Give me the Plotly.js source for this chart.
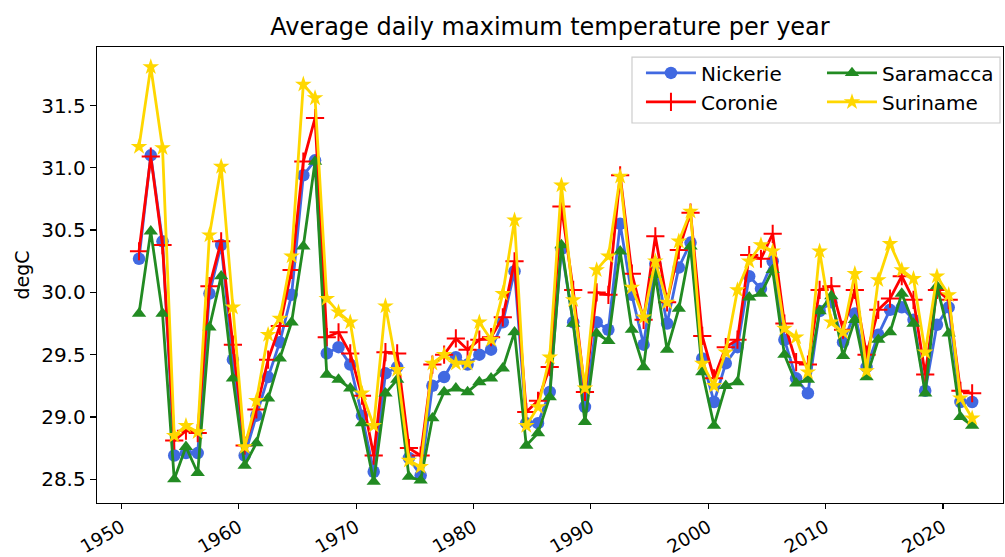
<!DOCTYPE html>
<html>
<head>
<meta charset="utf-8">
<script src="https://cdn.plot.ly/plotly-3.0.1.min.js"></script>
<style>
  html, body { margin: 0; padding: 0; background: #fff; }
  #chart { width: 1005px; height: 557px; }
</style>
</head>
<body>
<div id="chart"></div>
<script>
// Yearly mean of the daily maximum temperature (degC) per district
const years = [
  1951, 1952, 1953, 1954, 1955, 1956, 1957, 1958, 1959, 1960,
  1961, 1962, 1963, 1964, 1965, 1966, 1967, 1968, 1969, 1970,
  1971, 1972, 1973, 1974, 1975, 1976, 1977, 1978, 1979, 1980,
  1981, 1982, 1983, 1984, 1985, 1986, 1987, 1988, 1989, 1990,
  1991, 1992, 1993, 1994, 1995, 1996, 1997, 1998, 1999, 2000,
  2001, 2002, 2003, 2004, 2005, 2006, 2007, 2008, 2009, 2010,
  2011, 2012, 2013, 2014, 2015, 2016, 2017, 2018, 2019, 2020,
  2021, 2022
];

const nickerie = [
  30.27, 31.10, 30.41, 28.69, 28.71, 28.71, 29.99, 30.38, 29.46, 28.69,
  29.01, 29.32, 29.60, 29.98, 30.94, 31.06, 29.51, 29.56, 29.42, 29.01,
  28.56, 29.35, 29.40, 28.67, 28.53, 29.25, 29.32, 29.48, 29.42, 29.50,
  29.54, 29.76, 30.17, 28.95, 28.95, 29.20, 30.35, 29.76, 29.08, 29.76,
  29.70, 30.55, 29.98, 29.58, 30.23, 29.75, 30.20, 30.40, 29.47, 29.12,
  29.43, 29.56, 30.13, 30.03, 30.25, 29.62, 29.31, 29.19, 29.85, 29.92,
  29.60, 29.83, 29.40, 29.66, 29.86, 29.88, 29.78, 29.21, 29.74, 29.88,
  29.12, 29.12
];

const coronie = [
  30.33, 31.09, 30.38, 28.81, 28.89, 28.87, 30.05, 30.41, 29.58, 28.77,
  29.06, 29.46, 29.73, 30.18, 31.05, 31.40, 29.64, 29.68, 29.51, 29.17,
  28.69, 29.52, 29.51, 28.75, 28.69, 29.42, 29.50, 29.63, 29.54, 29.62,
  29.64, 29.80, 30.25, 29.04, 29.13, 29.40, 30.69, 30.02, 29.20, 30.00,
  29.98, 30.94, 30.15, 29.78, 30.45, 29.92, 30.34, 30.64, 29.65, 29.31,
  29.56, 29.62, 30.30, 30.27, 30.47, 29.75, 29.44, 29.42, 30.02, 30.05,
  29.70, 30.02, 29.50, 29.86, 29.95, 30.13, 29.94, 29.34, 30.02, 29.94,
  29.21, 29.19
];

const saramacca = [
  29.83, 30.49, 29.83, 28.50, 28.76, 28.55, 29.72, 30.13, 29.31, 28.61,
  28.79, 29.15, 29.47, 29.76, 30.37, 31.05, 29.34, 29.30, 29.23, 28.95,
  28.48, 29.19, 29.30, 28.52, 28.49, 28.99, 29.20, 29.23, 29.20, 29.28,
  29.31, 29.39, 29.68, 28.77, 28.87, 29.16, 30.38, 29.75, 28.96, 29.67,
  29.61, 30.33, 29.70, 29.40, 30.14, 29.54, 29.87, 30.37, 29.36, 28.93,
  29.25, 29.28, 29.96, 29.99, 30.18, 29.50, 29.27, 29.30, 29.85, 29.97,
  29.49, 29.78, 29.32, 29.62, 29.68, 29.99, 29.75, 29.19, 30.05, 29.67,
  29.00, 28.93
];

const suriname = [
  31.17, 31.81, 31.16, 28.85, 28.93, 28.88, 30.46, 31.01, 29.88, 28.76,
  29.13, 29.66, 29.79, 30.29, 31.67, 31.56, 29.95, 29.84, 29.76, 29.19,
  28.93, 29.89, 29.38, 28.65, 28.60, 29.43, 29.50, 29.43, 29.43, 29.76,
  29.62, 29.99, 30.58, 28.93, 29.08, 29.48, 30.86, 29.94, 29.23, 30.18,
  30.29, 30.93, 30.04, 29.80, 30.25, 29.92, 30.41, 30.65, 29.43, 29.25,
  29.52, 30.02, 30.25, 30.38, 30.33, 29.71, 29.64, 29.36, 30.33, 29.76,
  29.68, 30.15, 29.37, 30.10, 30.39, 30.18, 30.11, 29.52, 30.13, 29.98,
  29.15, 28.99
];

// each yearly mean is placed in the middle of its year
const dates = years.map(y => y + '-07-01');

const FONT = 'DejaVu Sans, Verdana, sans-serif';

function series(name, values, color, symbol, legendId) {
  const marker = { symbol: symbol, size: 12.5, color: color };
  if (symbol === 'cross-thin') {
    marker.size = 13;
    marker.line = { color: color, width: 2 };
  }
  return {
    type: 'scatter',
    mode: 'lines+markers',
    name: name,
    x: dates,
    y: values,
    line: { color: color, width: 2.8 },
    marker: marker,
    legend: legendId,
    legendgroup: name
  };
}

const traces = [
  series('Nickerie', nickerie, '#4169E1', 'circle', 'legend'),
  series('Coronie', coronie, '#FF0000', 'cross-thin', 'legend'),
  series('Saramacca', saramacca, '#228B22', 'triangle-up', 'legend2'),
  series('Suriname', suriname, '#FFD700', 'star', 'legend2')
];

// two legend columns sharing one framed box
function legendColumn(x) {
  return {
    orientation: 'v',
    x: x,
    xanchor: 'left',
    y: 0.986,
    yanchor: 'top',
    bgcolor: 'rgba(0,0,0,0)',
    borderwidth: 0,
    itemwidth: 50,
    tracegroupgap: 7,
    font: { family: FONT, size: 20, color: '#000' },
    traceorder: 'normal'
  };
}

const layout = {
  width: 1005,
  height: 557,
  margin: { l: 97, r: 2, t: 47, b: 54 },
  paper_bgcolor: '#ffffff',
  plot_bgcolor: '#ffffff',
  font: { family: FONT, size: 20, color: '#000' },
  showlegend: true,
  title: {
    text: 'Average daily maximum temperature per year',
    font: { family: FONT, size: 24, color: '#000' },
    x: 0.5,
    xref: 'paper',
    xanchor: 'center',
    y: 1 - 27 / 557,
    yref: 'container',
    yanchor: 'middle'
  },
  xaxis: {
    type: 'date',
    range: ['1947-12-01', '2025-02-15'],
    tick0: '1950-01-01',
    dtick: 'M120',
    tickformat: '%Y',
    tickangle: -30,
    ticks: 'outside',
    ticklen: 5,
    tickwidth: 1.3,
    tickcolor: '#000',
    showline: true,
    linecolor: '#000',
    linewidth: 1.3,
    mirror: true,
    showgrid: false,
    zeroline: false,
    tickfont: { family: FONT, size: 18.5, color: '#000' }
  },
  yaxis: {
    range: [28.309, 31.97],
    tickvals: [28.5, 29.0, 29.5, 30.0, 30.5, 31.0, 31.5],
    ticktext: ['28.5', '29.0', '29.5', '30.0', '30.5', '31.0', '31.5'],
    ticks: 'outside',
    ticklen: 6,
    tickwidth: 1.3,
    tickcolor: '#000',
    showline: true,
    linecolor: '#000',
    linewidth: 1.3,
    mirror: true,
    showgrid: false,
    zeroline: false,
    tickfont: { family: FONT, size: 20, color: '#000' },
    title: {
      text: 'degC',
      font: { family: FONT, size: 19, color: '#000' },
      standoff: 6
    }
  },
  legend: legendColumn(0.6004),
  legend2: legendColumn(0.8002),
  shapes: [{
    type: 'rect',
    xref: 'paper',
    yref: 'paper',
    x0: 0.5905,
    x1: 0.9967,
    y0: 0.8333,
    y1: 0.978,
    line: { color: '#cccccc', width: 1.2 },
    fillcolor: 'rgba(255,255,255,0.8)',
    layer: 'above'
  }]
};

Plotly.newPlot('chart', traces, layout, { displayModeBar: false, staticPlot: true });
</script>
</body>
</html>
